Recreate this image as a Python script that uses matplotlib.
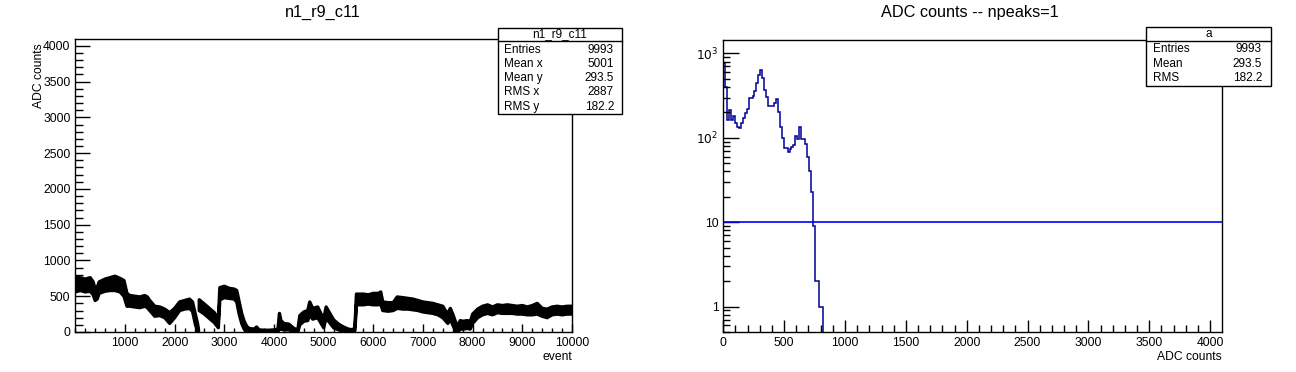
import numpy as np
import matplotlib
matplotlib.use("Agg")
import matplotlib.pyplot as plt
from matplotlib.patches import Rectangle
from matplotlib.lines import Line2D
from matplotlib.ticker import MultipleLocator, FixedLocator, FuncFormatter, LogLocator, NullFormatter

plt.rcParams['font.family'] = ['Liberation Sans', 'DejaVu Sans']

# left panel: ADC counts vs event, band of scattered points (low / high edge)
# nan rows break the band where the points have a gap
band_event = [0, 100, 200, 300, 360, 400, 440, 480, 600, 700, 800, 900, 980,
              1040, 1100, 1200, 1300, 1400, 1450, 1500, 1600, 1700, 1800, 1900,
              2000, 2100, 2200, 2300, 2360, 2420, 2460, 2480, 2485,
              2495, 2600, 2700, 2800, 2880, 2910, 3000, 3100, 3200, 3250, 3300,
              3350, 3400, 3450, 3500, 3600, 3650, 3700, 3800, 3900, 4000, 4080,
              4110, 4140, 4200, 4300, 4400, 4480, 4520, 4600, 4680, 4720, 4780,
              4880, 4950, 5000, 5050, 5100, 5200, 5300, 5400, 5500, 5600, 5630,
              5660, 5800, 5900, 6000, 6100, 6150, 6190, 6300, 6400, 6480, 6600,
              6700, 6800, 6900, 7000, 7100, 7200, 7300, 7400, 7450, 7500, 7550,
              7600, 7650, 7700, 7750, 7800, 7900, 7950, 8000, 8100, 8200, 8300,
              8400, 8500, 8600, 8700, 8800, 8900, 9000, 9100, 9200, 9300, 9400,
              9500, 9600, 9700, 9800, 9900, 10000]
band_low = [560, 580, 560, 570, 520, 440, 460, 540, 570, 580, 580, 560, 500,
            360, 360, 350, 340, 360, 340, 300, 220, 230, 200, 120,
            200, 300, 320, 330, 290, 100, 20, 0, np.nan,
            300, 250, 190, 130, 60, 450, 480, 470, 460, 420, 250,
            120, 40, 10, 0, 0, 0, 0, 0, 0, 0, 0,
            60, 40, 30, 30, 0, 0, 100, 150, 160, 240, 180,
            200, 120, 60, 200, 150, 60, 30, 10, 0, 0, 20,
            380, 380, 390, 380, 380, 390, 300, 290, 300, 330, 320,
            320, 310, 300, 280, 270, 260, 240, 200, 160, 120, 180,
            100, 20, 0, 40, 40, 50, 40, 120, 200, 240, 260,
            240, 270, 260, 260, 260, 250, 250, 240, 240, 250, 220,
            200, 240, 250, 240, 250, 250]
band_high = [760, 760, 740, 760, 700, 600, 620, 700, 740, 760, 780, 750, 720,
             540, 510, 500, 490, 510, 490, 440, 360, 350, 320, 270,
             330, 420, 440, 460, 420, 240, 120, 40, np.nan,
             450, 390, 330, 270, 180, 620, 640, 610, 600, 580, 420,
             260, 150, 80, 50, 40, 70, 30, 25, 25, 30, 40,
             260, 160, 120, 110, 50, 30, 230, 280, 300, 420, 330,
             350, 250, 180, 350, 290, 170, 110, 70, 40, 30, 80,
             530, 530, 520, 540, 540, 560, 420, 410, 410, 490, 480,
             470, 460, 440, 420, 410, 400, 380, 360, 300, 260, 330,
             250, 150, 80, 160, 150, 160, 140, 250, 320, 360, 380,
             350, 380, 370, 380, 370, 360, 370, 350, 370, 400, 330,
             320, 350, 360, 350, 360, 360]

# right panel: ADC histogram, bins of 16 counts starting at 0
bin_width = 16
hist_counts = [760, 400, 162, 213, 162, 181, 148, 133, 129, 148, 170, 195, 217,
               292, 295, 311, 356, 441, 552, 635, 506, 373, 305, 237, 240, 237,
               259, 285, 203, 135, 100, 75, 75, 68, 73, 77, 82, 105, 97, 133,
               96, 96, 84, 60, 40, 23, 9, 2, 2, 1, 1]
threshold = 10

left_stats = [("Entries", "9993"), ("Mean x", "5001"), ("Mean y", "293.5"),
              ("RMS x", "2887"), ("RMS y", "182.2")]
right_stats = [("Entries", "9993"), ("Mean", "293.5"), ("RMS", "182.2")]

W, H = 1296, 372
fig = plt.figure(figsize=(W / 100, H / 100), dpi=100)


def fx(x):
    return x / W


def fy(y):
    return 1 - y / H


tick_fs = 8.7

# ---- left panel
ax1 = fig.add_axes([fx(75.3), fy(332), fx(572) - fx(75.3), fy(39) - fy(332)])
ev = np.array(band_event, dtype=float)
lo = np.array(band_low, dtype=float)
hi = np.array(band_high, dtype=float)
ax1.fill_between(ev, lo, hi, color='black', lw=2.4, edgecolor='black')
ax1.set_xlim(0, 10000)
ax1.set_ylim(0, 4096)
ax1.xaxis.set_major_locator(FixedLocator(np.arange(1000, 10001, 1000)))
ax1.xaxis.set_minor_locator(MultipleLocator(200))
ax1.yaxis.set_major_locator(MultipleLocator(500))
ax1.yaxis.set_minor_locator(MultipleLocator(100))
ax1.tick_params(axis='x', which='major', direction='in', length=5.8, width=1, labelsize=tick_fs, pad=3.4)
ax1.tick_params(axis='x', which='minor', direction='in', length=2.9, width=1)
ax1.tick_params(axis='y', which='major', direction='in', length=10.8, width=1, labelsize=tick_fs, pad=3.5)
ax1.tick_params(axis='y', which='minor', direction='in', length=5.4, width=1)
ax1.set_xlabel("event", loc='right', fontsize=8.7, labelpad=2)
ax1.set_ylabel("ADC counts", fontsize=8.7)
ax1.yaxis.set_label_coords(-0.074, 0.985)
ax1.yaxis.label.set_horizontalalignment('right')
ax1.yaxis.label.set_verticalalignment('center')
for s in ax1.spines.values():
    s.set_linewidth(1)
fig.text(fx(323), fy(12), "n1_r9_c11", ha='center', va='center', fontsize=11.7)

# ---- right panel
ax2 = fig.add_axes([fx(723.3), fy(332), fx(1221.8) - fx(723.3), fy(40) - fy(332)])
counts = np.zeros(256)
counts[:len(hist_counts)] = hist_counts
edges = np.arange(257) * bin_width
plot_counts = np.where(counts > 0, counts, 1e-3)
ax2.stairs(plot_counts, edges, color='#000099', lw=1.1, baseline=None)
ax2.axhline(threshold, color='#0000ff', lw=1.2)
ax2.set_yscale('log')
ax2.set_xlim(0, 4096)
ax2.set_ylim(0.5, 1440)
ax2.xaxis.set_major_locator(MultipleLocator(500))
ax2.xaxis.set_minor_locator(MultipleLocator(100))
ax2.yaxis.set_major_locator(FixedLocator([1, 10, 100, 1000]))
ax2.yaxis.set_minor_locator(LogLocator(base=10, subs=np.arange(2, 10)))
ax2.yaxis.set_minor_formatter(NullFormatter())
ax2.yaxis.set_major_formatter(FuncFormatter(
    lambda v, p: {1: "1", 10: "10", 100: r"$10^{2}$", 1000: r"$10^{3}$"}.get(int(round(v)), "")))
ax2.tick_params(axis='x', which='major', direction='in', length=8.4, width=1, labelsize=tick_fs, pad=3.4)
ax2.tick_params(axis='x', which='minor', direction='in', length=4.8, width=1)
ax2.tick_params(axis='y', which='major', direction='in', length=11.3, width=1, labelsize=tick_fs, pad=3.5)
ax2.tick_params(axis='y', which='minor', direction='in', length=5.0, width=1)
ax2.set_xlabel("ADC counts", loc='right', fontsize=8.7, labelpad=2)
for s in ax2.spines.values():
    s.set_linewidth(1)
fig.text(fx(970), fy(12), "ADC counts -- npeaks=1", ha='center', va='center', fontsize=11.7)


# ---- stats boxes
def stats_box(x0, x1, y0, ydiv, y1, header, rows, row_y, tx0, tx1):
    fig.add_artist(Rectangle((fx(x0), fy(y1)), fx(x1) - fx(x0), fy(y0) - fy(y1),
                             transform=fig.transFigure, fc='white', ec='black', lw=1, zorder=10))
    fig.add_artist(Line2D([fx(x0), fx(x1)], [fy(ydiv), fy(ydiv)],
                          transform=fig.transFigure, color='black', lw=1, zorder=11))
    fig.text(fx((x0 + x1) / 2), fy((y0 + ydiv) / 2), header, ha='center', va='center',
             fontsize=8.5, zorder=12)
    for (name, val), yy in zip(rows, row_y):
        fig.text(fx(tx0), fy(yy), name, ha='left', va='center', fontsize=8.5, zorder=12)
        fig.text(fx(tx1), fy(yy), val, ha='right', va='center', fontsize=8.5, zorder=12)


stats_box(498, 622, 28, 41, 114, "n1_r9_c11", left_stats,
          [50, 64.3, 78.3, 92.3, 106.5], 504, 614)
stats_box(1146, 1271, 27, 41, 86, "a", right_stats,
          [49.3, 63.7, 78], 1153, 1262)

fig.savefig("out.png", dpi=100)
